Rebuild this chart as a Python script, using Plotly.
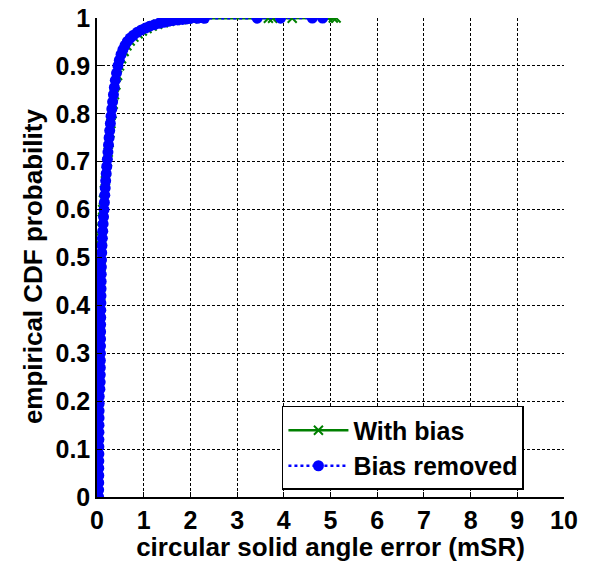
import plotly.graph_objects as go

# empirical CDF: error (mSR) vs probability
bias_removed_p = [0.000, 0.015, 0.030, 0.045, 0.060, 0.075, 0.090, 0.105, 0.120, 0.135,
                  0.150, 0.165, 0.180, 0.195, 0.210, 0.225, 0.240, 0.255, 0.270, 0.285,
                  0.300, 0.315, 0.330, 0.345, 0.360, 0.375, 0.390, 0.405, 0.420, 0.435,
                  0.450, 0.465, 0.480, 0.495, 0.510, 0.525, 0.540, 0.555, 0.570, 0.585,
                  0.600, 0.615, 0.630, 0.645, 0.660, 0.675, 0.690, 0.705, 0.720, 0.735,
                  0.750, 0.765, 0.780, 0.795, 0.810, 0.825, 0.840, 0.855, 0.870, 0.885,
                  0.900, 0.912, 0.924, 0.934, 0.943, 0.951, 0.958, 0.964, 0.970, 0.975,
                  0.979, 0.983, 0.986, 0.989, 0.991, 0.993, 0.995, 0.996, 0.997, 0.998,
                  0.999, 0.9993, 0.9995, 0.9996, 0.9997, 0.9998, 1.000]
bias_removed_x = [0.035, 0.036, 0.037, 0.038, 0.038, 0.039, 0.040, 0.040, 0.041, 0.042,
                  0.043, 0.044, 0.045, 0.046, 0.048, 0.062, 0.068, 0.070, 0.071, 0.072,
                  0.074, 0.075, 0.076, 0.077, 0.078, 0.080, 0.081, 0.083, 0.085, 0.087,
                  0.089, 0.091, 0.094, 0.097, 0.101, 0.107, 0.115, 0.123, 0.131, 0.140,
                  0.150, 0.158, 0.167, 0.176, 0.186, 0.197, 0.209, 0.222, 0.234, 0.246,
                  0.259, 0.272, 0.286, 0.301, 0.317, 0.334, 0.352, 0.371, 0.392, 0.418,
                  0.448, 0.478, 0.515, 0.555, 0.600, 0.650, 0.710, 0.780, 0.860, 0.950,
                  1.040, 1.130, 1.230, 1.330, 1.430, 1.530, 1.630, 1.730, 1.830, 1.920,
                  2.000, 2.150, 2.300, 3.430, 3.930, 4.610, 4.830]

with_bias_p = [0.000, 0.020, 0.040, 0.060, 0.080, 0.100, 0.120, 0.140, 0.160, 0.180,
               0.200, 0.220, 0.240, 0.260, 0.280, 0.300, 0.320, 0.340, 0.360, 0.380,
               0.400, 0.420, 0.440, 0.460, 0.480, 0.500, 0.520, 0.540, 0.560, 0.580,
               0.600, 0.620, 0.640, 0.660, 0.680, 0.700, 0.720, 0.740, 0.760, 0.780,
               0.800, 0.820, 0.840, 0.860, 0.880, 0.900, 0.915, 0.930, 0.942, 0.952,
               0.960, 0.967, 0.973, 0.978, 0.983, 0.987, 0.990, 0.993, 0.995, 0.997,
               0.998, 0.999, 0.9993, 0.9994, 0.9995, 0.9996, 0.9998, 0.9999, 1.000]
with_bias_x = [0.010, 0.012, 0.014, 0.016, 0.018, 0.020, 0.022, 0.024, 0.026, 0.028,
               0.030, 0.033, 0.045, 0.050, 0.054, 0.058, 0.061, 0.064, 0.067, 0.070,
               0.073, 0.076, 0.079, 0.082, 0.085, 0.088, 0.092, 0.097, 0.104, 0.112,
               0.122, 0.140, 0.160, 0.180, 0.200, 0.222, 0.240, 0.258, 0.278, 0.299,
               0.322, 0.347, 0.374, 0.404, 0.440, 0.482, 0.525, 0.580, 0.640, 0.710,
               0.790, 0.880, 0.970, 1.070, 1.180, 1.300, 1.420, 1.550, 1.680, 1.810,
               1.930, 2.050, 2.200, 3.670, 3.760, 4.180, 4.950, 5.060, 5.120]

x_ticks = [0, 1, 2, 3, 4, 5, 6, 7, 8, 9, 10]
y_ticks = [0, 0.1, 0.2, 0.3, 0.4, 0.5, 0.6, 0.7, 0.8, 0.9, 1]

fig = go.Figure()
fig.add_trace(go.Scatter(x=with_bias_x, y=with_bias_p, name="With bias", mode="lines+markers",
                         line=dict(color="#008000", width=2.5),
                         marker=dict(symbol="x-thin", size=9, color="#008000",
                                     line=dict(color="#008000", width=2))))
fig.add_trace(go.Scatter(x=bias_removed_x, y=bias_removed_p, name="Bias removed", mode="lines+markers",
                         line=dict(color="#0000FF", width=2.5, dash="dot"),
                         marker=dict(symbol="circle", size=11, color="#0000FF")))

axis_style = dict(showgrid=True, gridcolor="black", gridwidth=1, griddash="3px,2px",
                  showline=True, linecolor="black", linewidth=1.5, zeroline=False,
                  ticks="inside", ticklen=5, tickcolor="black", tickwidth=1,
                  automargin=False, ticklabeloverflow="allow")

fig.update_xaxes(range=[0, 10], tickvals=x_ticks,
                 title=dict(text="circular solid angle error (mSR)", font=dict(size=26), standoff=6),
                 **axis_style)
fig.update_yaxes(range=[0, 1], tickvals=y_ticks, **axis_style)

# y label as a rotated annotation so it can sit slightly below centre, as in the original
fig.add_annotation(text="empirical CDF probability", xref="paper", yref="paper",
                   x=-0.137, y=0.48, xanchor="center", yanchor="middle",
                   textangle=-90, showarrow=False, font=dict(size=26))

# page body adds an 8px offset, so the figure is 8px smaller than the window
fig.update_layout(
    width=584, height=554,
    margin=dict(l=89, r=28, t=10, b=65),
    paper_bgcolor="white", plot_bgcolor="white",
    font=dict(family="Liberation Sans, Arial", size=25, color="black", weight="bold"),
    legend=dict(x=0.396, y=0.19, xanchor="left", yanchor="top",
                bgcolor="white", bordercolor="black", borderwidth=1.5,
                entrywidth=262, itemwidth=60,
                font=dict(size=25)),
)

fig.write_html("out.html")
